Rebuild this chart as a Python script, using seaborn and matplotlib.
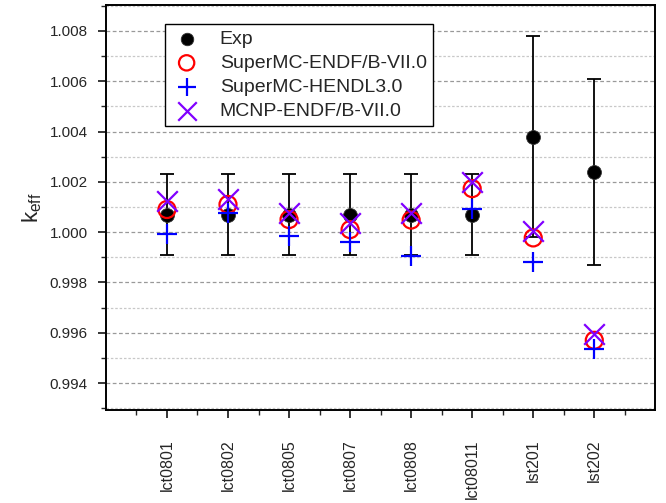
import numpy as np
import pandas as pd
import seaborn as sns
import matplotlib.pyplot as plt
from matplotlib.ticker import MultipleLocator, FixedLocator

sns.set_style("white")
plt.rcParams['font.family'] = ['Liberation Sans', 'DejaVu Sans']

# data
cases = ['lct0801', 'lct0802', 'lct0805', 'lct0807', 'lct0808', 'lct08011', 'lst201', 'lst202']
exp = [1.0007, 1.0007, 1.0007, 1.0007, 1.0007, 1.0007, 1.0038, 1.0024]
exp_err = [0.0016, 0.0016, 0.0016, 0.0016, 0.0016, 0.0016, 0.0040, 0.0037]
smc_endf = [1.0009, 1.0011, 1.0005, 1.0001, 1.00048, 1.00173, 0.99977, 0.9957]
smc_hendl = [0.99991, 1.00077, 0.99984, 0.9996, 0.99904, 1.00093, 0.9988, 0.99537]
mcnp_endf = [1.00124, 1.0013, 1.00075, 1.00037, 1.00075, 1.0020, 1.00004, 0.99595]

pos = np.arange(1, len(cases) + 1)
df = pd.DataFrame({'pos': pos, 'exp': exp, 'err': exp_err, 'smc_endf': smc_endf,
                   'smc_hendl': smc_hendl, 'mcnp': mcnp_endf})

fig = plt.figure(figsize=(6.66, 5.03), dpi=100)
ax = fig.add_axes([0.159, 0.185, 0.825, 0.805])

ax.errorbar(df['pos'], df['exp'], yerr=df['err'], fmt='none', ecolor='black',
            elinewidth=1.3, capsize=5, capthick=1.3, zorder=2)
sns.scatterplot(x='pos', y='exp', data=df, ax=ax, marker='o', s=100, color='black',
                edgecolor='#333333', linewidth=0.6, label='Exp', zorder=3)
sns.scatterplot(x='pos', y='smc_endf', data=df, ax=ax, marker='o', s=150, facecolor='none',
                edgecolor='red', linewidth=1.6, label='SuperMC-ENDF/B-VII.0', zorder=4)
sns.scatterplot(x='pos', y='smc_hendl', data=df, ax=ax, marker='+', s=220, color='#0000ff',
                linewidth=1.6, label='SuperMC-HENDL3.0', zorder=5)
sns.scatterplot(x='pos', y='mcnp', data=df, ax=ax, marker='x', s=220, color='#8000ff',
                linewidth=1.6, label='MCNP-ENDF/B-VII.0', zorder=6)

ax.set_xlim(0, 9)
ax.set_ylim(0.99293, 1.00903)
ax.xaxis.set_major_locator(FixedLocator(pos))
ax.xaxis.set_minor_locator(FixedLocator(np.arange(0.5, 9.0, 1.0)))
ax.set_xticklabels(cases, rotation=90, fontsize=11.5)
ax.yaxis.set_major_locator(MultipleLocator(0.002))
ax.yaxis.set_minor_locator(MultipleLocator(0.001))
ax.yaxis.set_major_formatter(plt.FormatStrFormatter('%.3f'))
ax.tick_params(axis='y', labelsize=11, pad=7)
ax.tick_params(axis='x', pad=15)
ax.tick_params(which='major', direction='out', length=6, width=1.3, left=True, bottom=True)
ax.tick_params(which='minor', direction='out', length=3.5, width=1.0, left=True, bottom=True)

ax.grid(which='major', axis='y', color='#999999', linestyle=(0, (3, 2)), linewidth=0.9)
ax.grid(which='minor', axis='y', color='#c8c8c8', linestyle=(0, (2, 1.5)), linewidth=0.9)
ax.set_axisbelow(True)
for sp in ax.spines.values():
    sp.set_color('black')
    sp.set_linewidth(1.4)

ax.set_xlabel('')
ax.set_ylabel(r'$\mathregular{k_{eff}}$', fontsize=16, labelpad=4)

leg = ax.legend(loc='upper left', bbox_to_anchor=(0.108, 0.952), borderaxespad=0,
                fontsize=14, frameon=True, fancybox=False, edgecolor='black',
                framealpha=1, handletextpad=0.9, labelspacing=0.33, borderpad=0.3,
                handlelength=1.6, markerscale=0.9)
leg.get_frame().set_linewidth(1.0)

fig.savefig('out.png', dpi=100)
